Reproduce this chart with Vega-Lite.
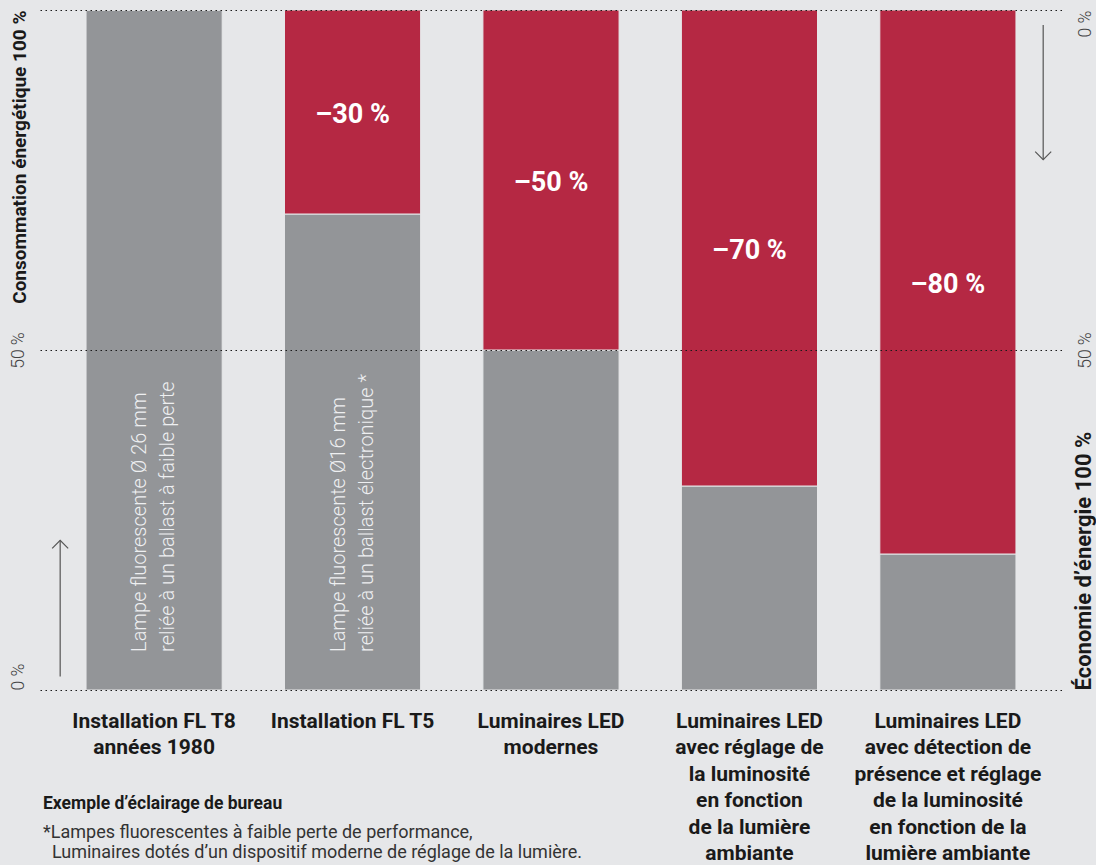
{
  "$schema": "https://vega.github.io/schema/vega-lite/v6.json",
  "width": 1022,
  "height": 680,
  "autosize": "none",
  "padding": {"left": 40, "top": 10, "right": 34, "bottom": 175},
  "background": "#e6e7e9",
  "config": {"view": {"stroke": null}, "font": "Roboto"},
  "datasets": {
    "barres": [
      {"categorie": "Installation FL T8|années 1980", "partie": "Consommation", "valeur": 100},
      {"categorie": "Installation FL T8|années 1980", "partie": "Économie", "valeur": 0},
      {"categorie": "Installation FL T5", "partie": "Consommation", "valeur": 70},
      {"categorie": "Installation FL T5", "partie": "Économie", "valeur": 30},
      {"categorie": "Luminaires LED|modernes", "partie": "Consommation", "valeur": 50},
      {"categorie": "Luminaires LED|modernes", "partie": "Économie", "valeur": 50},
      {"categorie": "Luminaires LED|avec réglage de|la luminosité|en fonction|de la lumière|ambiante", "partie": "Consommation", "valeur": 30},
      {"categorie": "Luminaires LED|avec réglage de|la luminosité|en fonction|de la lumière|ambiante", "partie": "Économie", "valeur": 70},
      {"categorie": "Luminaires LED|avec détection de|présence et réglage|de la luminosité|en fonction de la|lumière ambiante", "partie": "Consommation", "valeur": 20},
      {"categorie": "Luminaires LED|avec détection de|présence et réglage|de la luminosité|en fonction de la|lumière ambiante", "partie": "Économie", "valeur": 80}
    ],
    "notes": [
      {"categorie": "Installation FL T8|années 1980", "texte": "Lampe fluorescente Ø 26 mm\nreliée à un ballast à faible perte"},
      {"categorie": "Installation FL T5", "texte": "Lampe fluorescente Ø16 mm\nreliée à un ballast électronique *"}
    ]
  },
  "data": {"name": "barres"},
  "title": {
    "text": "Exemple d’éclairage de bureau",
    "subtitle": ["*Lampes fluorescentes à faible perte de performance,", "\u200b\u00a0\u00a0Luminaires dotés d’un dispositif moderne de réglage de la lumière."],
    "orient": "bottom",
    "anchor": "start",
    "frame": "group",
    "offset": -69,
    "dx": 3,
    "font": "Roboto",
    "fontSize": 17.5,
    "fontWeight": "bold",
    "color": "#1a1a1a",
    "subtitleFont": "Roboto",
    "subtitleFontSize": 18,
    "subtitleColor": "#333333",
    "subtitleLineHeight": 20,
    "subtitlePadding": 12
  },
  "encoding": {
    "x": {
      "field": "categorie",
      "type": "nominal",
      "sort": null,
      "scale": {"paddingInner": 0.314, "paddingOuter": 0.232},
      "axis": {
        "title": null,
        "domain": false,
        "ticks": false,
        "tickSize": 0,
        "labelAngle": 0,
        "labelExpr": "split(datum.label, '|')",
        "labelFont": "Roboto",
        "labelFontSize": 21,
        "labelFontWeight": "bold",
        "labelColor": "#1a1a1a",
        "labelLineHeight": 26.5,
        "labelPadding": 20,
        "labelBaseline": "top",
        "labelLimit": 0
      }
    }
  },
  "layer": [
    {
      "transform": [
        {"stack": "valeur", "groupby": ["categorie"], "sort": [{"field": "partie", "order": "ascending"}], "as": ["y0", "y1"]}
      ],
      "mark": {"type": "bar", "stroke": "#e6e7e9", "strokeWidth": 1},
      "encoding": {
        "y": {
          "field": "y0",
          "type": "quantitative",
          "scale": {"domain": [0, 100], "nice": false},
          "axis": {
            "orient": "left",
            "values": [0, 50, 100],
            "domain": false,
            "ticks": false,
            "tickSize": 0,
            "grid": true,
            "gridDash": [1.5, 3.5],
            "gridColor": "#1a1a1a",
            "gridWidth": 1.2,
            "zindex": 1,
            "labelExpr": "datum.value == 100 ? '' : datum.value + ' %'",
            "labelAngle": -90,
            "labelAlign": {"condition": {"test": "datum.value == 0", "value": "left"}, "value": "center"},
            "labelBaseline": "middle",
            "labelPadding": 22,
            "labelFont": "Roboto",
            "labelFontSize": 17.5,
            "labelFontWeight": 300,
            "labelColor": "#444444",
            "title": "Consommation énergétique 100 %",
            "titleFont": "Roboto",
            "titleFontSize": 19,
            "titleFontWeight": "bold",
            "titleColor": "#1a1a1a",
            "titleAngle": -90,
            "titleAlign": "right",
            "titleBaseline": "middle",
            "titleX": -21,
            "titleY": 0
          }
        },
        "y2": {"field": "y1"},
        "color": {
          "field": "partie",
          "type": "nominal",
          "scale": {"domain": ["Consommation", "Économie"], "range": ["#939598", "#b52843"]},
          "legend": null
        }
      }
    },
    {
      "transform": [
        {"stack": "valeur", "groupby": ["categorie"], "sort": [{"field": "partie", "order": "ascending"}], "as": ["y0", "y1"]},
        {"filter": "datum.partie == 'Économie' && datum.valeur > 0"},
        {"calculate": "(datum.y0 + datum.y1) / 2", "as": "milieu"},
        {"calculate": "'–' + datum.valeur + ' %'", "as": "etiquette"}
      ],
      "mark": {"type": "text", "color": "#ffffff", "font": "Roboto", "fontSize": 27, "fontWeight": "bold", "baseline": "middle", "dy": 3},
      "encoding": {
        "y": {
          "field": "milieu",
          "type": "quantitative",
          "scale": {"domain": [0, 100], "nice": false},
          "axis": {
            "orient": "right",
            "values": [0, 50, 100],
            "domain": false,
            "ticks": false,
            "tickSize": 0,
            "grid": false,
            "labelExpr": "datum.value == 0 ? '' : (100 - datum.value) + ' %'",
            "labelAngle": -90,
            "labelAlign": {"condition": {"test": "datum.value == 100", "value": "right"}, "value": "center"},
            "labelBaseline": "middle",
            "labelPadding": 23,
            "labelFont": "Roboto",
            "labelFontSize": 17.5,
            "labelFontWeight": 300,
            "labelColor": "#444444",
            "title": "Économie d’énergie 100 %",
            "titleFont": "Roboto",
            "titleFontSize": 22,
            "titleFontWeight": "bold",
            "titleColor": "#1a1a1a",
            "titleAngle": -90,
            "titleAlign": "left",
            "titleBaseline": "middle",
            "titleX": 21,
            "titleY": 680
          }
        },
        "text": {"field": "etiquette", "type": "nominal"}
      }
    },
    {
      "data": {"name": "notes"},
      "mark": {"type": "text", "angle": 270, "align": "left", "baseline": "middle", "dy": -14, "lineBreak": "\n", "lineHeight": 28, "color": "#eeeff1", "font": "Roboto", "fontSize": 20, "fontWeight": 300},
      "encoding": {
        "y": {"datum": 5.6, "type": "quantitative", "axis": null},
        "text": {"field": "texte", "type": "nominal"}
      }
    },
    {
      "data": {"values": [{}]},
      "mark": {"type": "rule", "color": "#555555", "strokeWidth": 1.2},
      "encoding": {
        "x": {"datum": "Installation FL T8|années 1980", "type": "nominal", "bandPosition": -0.19},
        "y": {"datum": 2, "type": "quantitative", "axis": null},
        "y2": {"datum": 22}
      }
    },
    {
      "data": {"values": [{}]},
      "mark": {"type": "point", "shape": "M-1,1L0,0L1,1", "size": 256, "filled": false, "stroke": "#555555", "strokeWidth": 1.2, "opacity": 1},
      "encoding": {
        "x": {"datum": "Installation FL T8|années 1980", "type": "nominal", "bandPosition": -0.19},
        "y": {"datum": 22, "type": "quantitative", "axis": null}
      }
    },
    {
      "data": {"values": [{}]},
      "mark": {"type": "rule", "color": "#555555", "strokeWidth": 1.2},
      "encoding": {
        "x": {"datum": "Luminaires LED|avec détection de|présence et réglage|de la luminosité|en fonction de la|lumière ambiante", "type": "nominal", "bandPosition": 1.2},
        "y": {"datum": 97.8, "type": "quantitative", "axis": null},
        "y2": {"datum": 78}
      }
    },
    {
      "data": {"values": [{}]},
      "mark": {"type": "point", "shape": "M-1,-1L0,0L1,-1", "size": 256, "filled": false, "stroke": "#555555", "strokeWidth": 1.2, "opacity": 1},
      "encoding": {
        "x": {"datum": "Luminaires LED|avec détection de|présence et réglage|de la luminosité|en fonction de la|lumière ambiante", "type": "nominal", "bandPosition": 1.2},
        "y": {"datum": 78, "type": "quantitative", "axis": null}
      }
    }
  ],
  "resolve": {"axis": {"y": "independent"}}
}
